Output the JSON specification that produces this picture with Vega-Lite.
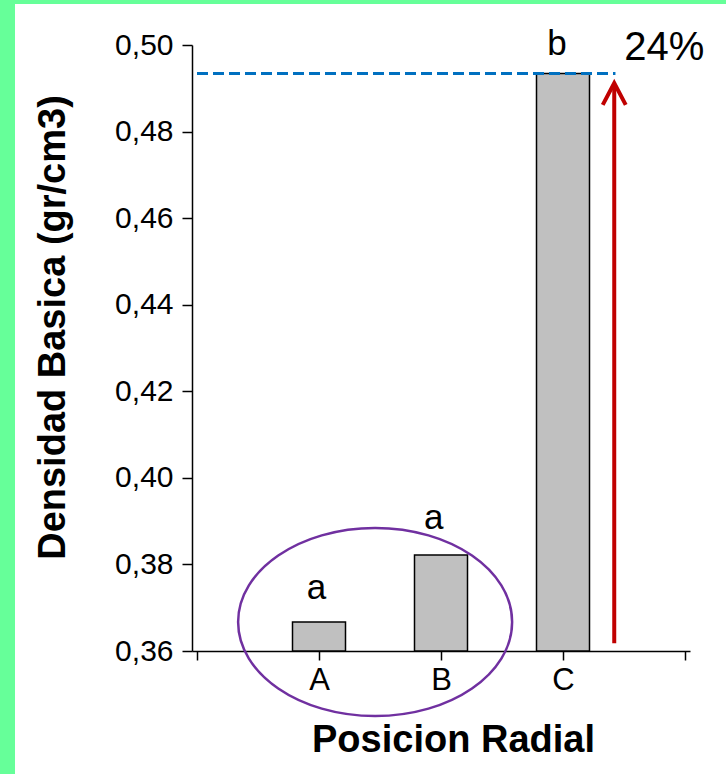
{
  "$schema": "https://vega.github.io/schema/vega-lite/v6.json",
  "padding": 0,
  "background": "white",
  "autosize": {"type": "pad"},
  "bounds": "flush",
  "spacing": 0,
  "datasets": {
    "bars": [
      {"x": 1, "y": 0.3667, "posicion": "A"},
      {"x": 2, "y": 0.3822, "posicion": "B"},
      {"x": 3, "y": 0.4934, "posicion": "C"}
    ],
    "letters": [
      {"x": 0.98, "y": 0.3745, "t": "a"},
      {"x": 1.94, "y": 0.3907, "t": "a"},
      {"x": 2.95, "y": 0.5002, "t": "b"}
    ],
    "pct": [{"x": 3.83, "y": 0.4993, "t": "24%"}],
    "refline": [{"x": 0, "x2": 3.43, "y": 0.4934}],
    "arrow": [{"x": 3.42, "y": 0.3618, "y2": 0.4905}],
    "arrowhead": [{"x": 3.42, "y": 0.4912}],
    "ellipse": [{"x": 1.46, "y": 0.3667}]
  },
  "hconcat": [
    {
      "width": 15,
      "height": 774,
      "data": {"values": []},
      "mark": "point",
      "view": {"fill": "#66FF99", "stroke": null}
    },
    {
      "bounds": "flush",
      "spacing": 41,
      "vconcat": [
        {
          "width": 711,
          "height": 4,
          "data": {"values": []},
          "mark": "point",
          "view": {"fill": "#66FF99", "stroke": null}
        },
        {
          "bounds": "flush",
          "spacing": 176,
          "hconcat": [
            {
              "width": 1,
              "height": 1,
              "data": {"values": []},
              "mark": "point",
              "view": {"stroke": null}
            },
            {
              "width": 498,
              "height": 606,
              "encoding": {
                "x": {
                  "field": "x",
                  "type": "quantitative",
                  "title": "Posicion Radial",
                  "scale": {"domain": [0, 4], "nice": false, "zero": false},
                  "axis": {
                    "values": [0, 1, 2, 3, 4],
                    "labelExpr": "datum.value == 1 ? 'A' : datum.value == 2 ? 'B' : datum.value == 3 ? 'C' : ''",
                    "grid": false,
                    "labelFontSize": 31,
                    "labelColor": "black",
                    "labelPadding": 5,
                    "tickSize": 9,
                    "tickColor": "black",
                    "tickWidth": 1.5,
                    "domainColor": "black",
                    "domainWidth": 1.5,
                    "titleFontSize": 38,
                    "titleFontWeight": "bold",
                    "titleColor": "black",
                    "titlePadding": 26,
                    "titleX": 261
                  }
                },
                "y": {
                  "field": "y",
                  "type": "quantitative",
                  "title": "Densidad Basica (gr/cm3)",
                  "scale": {"domain": [0.36, 0.5], "nice": false, "zero": false},
                  "axis": {
                    "values": [0.36, 0.38, 0.4, 0.42, 0.44, 0.46, 0.48, 0.5],
                    "labelExpr": "replace(format(datum.value, '.2f'), '.', ',')",
                    "grid": false,
                    "labelFontSize": 30,
                    "labelColor": "black",
                    "labelPadding": 9,
                    "tickSize": 10,
                    "tickColor": "black",
                    "tickWidth": 1.5,
                    "domainColor": "black",
                    "domainWidth": 1.5,
                    "titleFontSize": 38,
                    "titleFontWeight": "bold",
                    "titleColor": "black",
                    "titlePadding": 42,
                    "titleY": 282
                  }
                }
              },
              "layer": [
                {
                  "data": {"name": "bars"},
                  "mark": {"type": "bar", "width": 53, "fill": "#C0C0C0", "stroke": "black", "strokeWidth": 1.5},
                  "encoding": {"y2": {"datum": 0.36}}
                },
                {
                  "data": {"name": "refline"},
                  "mark": {"type": "rule", "color": "#0070C0", "strokeWidth": 3, "strokeDash": [11, 5]},
                  "encoding": {"x2": {"field": "x2"}}
                },
                {
                  "data": {"name": "arrow"},
                  "mark": {"type": "rule", "color": "#C00000", "strokeWidth": 4},
                  "encoding": {"y2": {"field": "y2"}}
                },
                {
                  "data": {"name": "arrowhead"},
                  "mark": {"type": "point", "shape": "M -1 1.9 L 0 0 L 1 1.9", "filled": false, "stroke": "#C00000", "strokeWidth": 4, "size": 529, "opacity": 1}
                },
                {
                  "data": {"name": "ellipse"},
                  "mark": {"type": "point", "shape": "M -1 0 A 1 0.686 0 1 0 1 0 A 1 0.686 0 1 0 -1 0 Z", "filled": false, "stroke": "#7030A0", "strokeWidth": 2.5, "size": 75076, "opacity": 1}
                },
                {
                  "data": {"name": "letters"},
                  "mark": {"type": "text", "fontSize": 35, "align": "center", "baseline": "middle", "color": "black"},
                  "encoding": {"text": {"field": "t"}}
                },
                {
                  "data": {"name": "pct"},
                  "mark": {"type": "text", "fontSize": 40, "align": "center", "baseline": "middle", "color": "black"},
                  "encoding": {"text": {"field": "t"}}
                }
              ]
            }
          ]
        }
      ]
    }
  ],
  "config": {
    "view": {"stroke": null},
    "font": "Liberation Sans"
  }
}
